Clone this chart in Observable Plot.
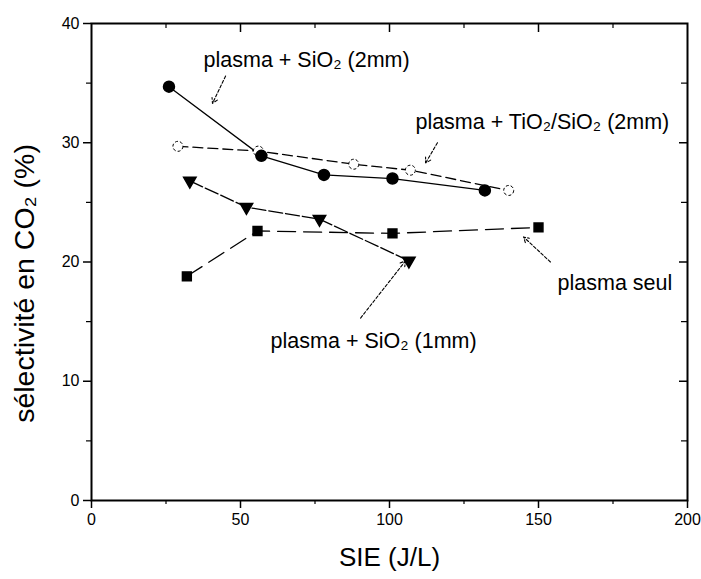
<!DOCTYPE html>
<html><head><meta charset="utf-8">
<script src="https://cdn.jsdelivr.net/npm/d3@7"></script>
<script src="https://cdn.jsdelivr.net/npm/@observablehq/plot@0.6"></script>
<style>body{margin:0;background:#fff}</style>
</head><body><div id="chart"></div>
<script>
// ---- data ----
const sieSiO2_2mm = [26, 57, 78, 101, 132];
const selSiO2_2mm = [34.7, 28.9, 27.3, 27.0, 26.0];
const sieTiO2 = [29, 56, 88, 107, 140];
const selTiO2 = [29.7, 29.3, 28.2, 27.7, 26.0];
const sieSiO2_1mm = [33, 52, 76.5, 106.5];
const selSiO2_1mm = [26.8, 24.6, 23.6, 20.1];
const sieSeul = [32, 55.7, 101, 150];
const selSeul = [18.8, 22.6, 22.4, 22.9];

const xTicks = [0, 50, 100, 150, 200];
const xMinor = [25, 75, 125, 175];
const yTicks = [0, 10, 20, 30, 40];
const yMinor = [5, 15, 25, 35];

const labelTexts = ["plasma + SiO₂ (2mm)", "plasma + TiO₂/SiO₂ (2mm)", "plasma seul", "plasma + SiO₂ (1mm)"];
const labelX = [37.6, 108.7, 156.4, 60.1];
const labelY = [36.9, 31.7, 18.2, 13.4];
const arrowX1 = [45, 116.1, 154, 90.3];
const arrowY1 = [35.6, 30.0, 20.0, 15.3];
const arrowX2 = [40.6, 112.1, 145, 105.4];
const arrowY2 = [33.3, 28.3, 22.1, 20.1];

const xLabel = "SIE (J/L)";
const yLabel = "sélectivité en CO₂ (%)";
const yLabelAt = 18.2; // vertical centre of the y title, in data units

// ---- build tables ----
const toRows = (xs, ys) => xs.map((x, i) => ({x, y: ys[i]}));
const rSiO2_2 = toRows(sieSiO2_2mm, selSiO2_2mm);
const rTiO2 = toRows(sieTiO2, selTiO2);
const rSiO2_1 = toRows(sieSiO2_1mm, selSiO2_1mm);
const rSeul = toRows(sieSeul, selSeul);
const labels = labelTexts.map((t, i) => ({t, x: labelX[i], y: labelY[i]}));
const arrows = arrowX1.map((x1, i) => ({x1, y1: arrowY1[i], x2: arrowX2[i], y2: arrowY2[i]}));

const W = 701, H = 579, ML = 91, MR = 14, MT = 23, MB = 79;
const FW = W - ML - MR, FH = H - MT - MB;
const sans = "'Liberation Sans', Arial, sans-serif";

const chart = Plot.plot({
  width: W, height: H,
  marginLeft: ML, marginRight: MR, marginTop: MT, marginBottom: MB,
  style: {background: "#fff", color: "#000"},
  x: {domain: [0, 200]},
  y: {domain: [0, 40]},
  marks: [
    Plot.axisX({ticks: xTicks, tickSize: 8, tickPadding: 5, label: null, fontSize: 16, fontFamily: sans, strokeWidth: 1.5}),
    Plot.axisY({ticks: yTicks, tickSize: 8, tickPadding: 4, label: null, fontSize: 16, fontFamily: sans, strokeWidth: 1.5}),
    Plot.tickX(xMinor, {x: d => d, insetTop: FH, insetBottom: -4, strokeWidth: 1.2}),
    Plot.tickX(xTicks.slice(1, -1), {x: d => d, insetBottom: FH - 9, strokeWidth: 1.5}),
    Plot.tickX(xMinor, {x: d => d, insetBottom: FH - 5, strokeWidth: 1.2}),
    Plot.tickY(yMinor, {y: d => d, insetLeft: -5, insetRight: FW, strokeWidth: 1.2}),
    Plot.tickY(yTicks.slice(1, -1), {y: d => d, insetLeft: FW - 8, strokeWidth: 1.5}),
    Plot.tickY(yMinor, {y: d => d, insetLeft: FW - 6, strokeWidth: 1.2}),
    Plot.frame({stroke: "#000", strokeWidth: 2}),
    Plot.line(rSiO2_2, {x: "x", y: "y", stroke: "#000", strokeWidth: 1.3}),
    Plot.line(rTiO2, {x: "x", y: "y", stroke: "#000", strokeWidth: 1.3, strokeDasharray: "10,5"}),
    Plot.line(rSiO2_1, {x: "x", y: "y", stroke: "#000", strokeWidth: 1.3, strokeDasharray: "14,3"}),
    Plot.line(rSeul, {x: "x", y: "y", stroke: "#000", strokeWidth: 1.3, strokeDasharray: "18,8"}),
    Plot.dot(rTiO2, {x: "x", y: "y", r: 5, fill: "#fff", stroke: "#000", strokeWidth: 1, strokeDasharray: "3,2"}),
    Plot.dot(rSiO2_2, {x: "x", y: "y", r: 5.5, fill: "#000", stroke: "#000"}),
    Plot.dot(rSiO2_1, {x: "x", y: "y", r: 4.6, symbol: "triangle", rotate: 180, fill: "#000", stroke: "#000"}),
    Plot.dot(rSeul, {x: "x", y: "y", r: 5, symbol: "square", fill: "#000", stroke: "#000"}),
    Plot.arrow(arrows, {x1: "x1", y1: "y1", x2: "x2", y2: "y2", stroke: "#000", strokeWidth: 1.1, strokeDasharray: "3,2", headLength: 8}),
    Plot.text(labels, {x: "x", y: "y", text: "t", textAnchor: "start", fontSize: 21.5, fontFamily: sans, fill: "#000"}),
    Plot.text([xLabel], {text: d => d, frameAnchor: "bottom", dy: 65, fontSize: 26, fontFamily: sans, fill: "#000"}),
    Plot.text([yLabel], {x: () => 0, y: () => yLabelAt, text: d => d, dx: -67, rotate: -90, fontSize: 28.5, fontFamily: sans, fill: "#000"})
  ]
});
document.getElementById("chart").appendChild(chart);
</script>
</body></html>
